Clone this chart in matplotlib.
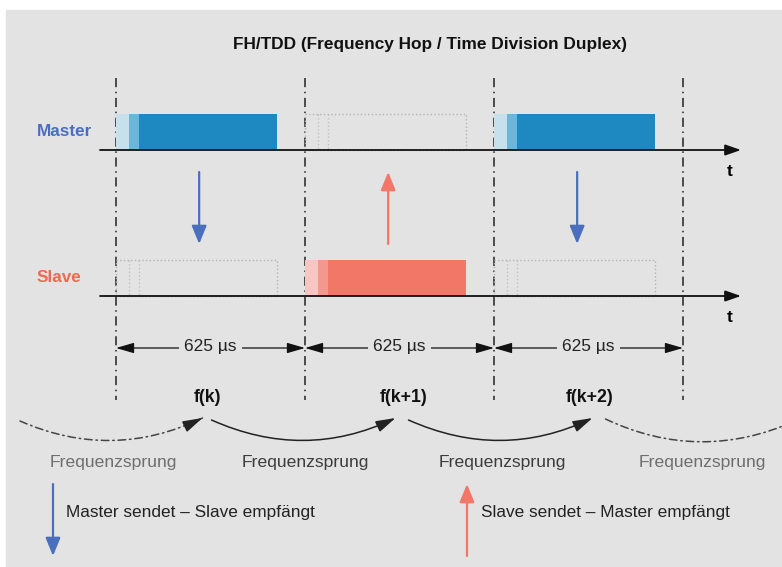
import matplotlib.pyplot as plt
from matplotlib.patches import FancyArrowPatch, Rectangle

plt.rcParams['font.family'] = ['Liberation Sans', 'DejaVu Sans']

# time line data (microseconds)
slot_us = 625
slot_bounds = [0, 625, 1250, 1875]
burst_us = 532
ramp_us = [0, 43, 76]           # light / medium / full part of a burst
master_tx = [True, False, True]
slave_tx = [False, True, False]
hop_labels = ['f(k)', 'f(k+1)', 'f(k+2)']
slot_label = '625 µs'
hop_text = 'Frequenzsprung'
title = 'FH/TDD (Frequency Hop / Time Division Duplex)'

blue = '#4a6fbf'
red = '#f37767'
master_cols = ['#c6e0ec', '#6cb6da', '#1e88c0']
slave_cols = ['#f8c6c2', '#f4978f', '#f37767']
panel = '#e3e3e3'

US_PER_PX = slot_us / 189.0
RAD = 0.23


def ux(p):
    # pixel column -> microseconds (only for decorations)
    return (p - 116) * US_PER_PX


fig = plt.figure(figsize=(7.82, 5.67), dpi=100)
fig.patch.set_facecolor('white')
ax = fig.add_axes([0, 0, 1, 1])
ax.set_xlim(ux(0), ux(782))
ax.set_ylim(567, 0)
ax.axis('off')

ax.add_patch(Rectangle((ux(6), 10), ux(800) - ux(6), 600, color=panel, zorder=0))

ax.text(ux(430), 45, title, ha='center', va='center', fontsize=12.4, fontweight='bold', color='#111111')

# vertical slot boundaries
ax.vlines(slot_bounds, 78, 400, colors='#222222', lw=1.1, linestyles=[(0, (6, 3, 1, 3))], zorder=2)

rows = [('Master', 150, master_tx, master_cols, blue),
        ('Slave', 296, slave_tx, slave_cols, '#ee6a4f')]
for name, y0, tx, cols, lc in rows:
    ax.text(ux(37), y0 - 19, name, ha='left', va='center', fontsize=12.3, fontweight='bold', color=lc)
    for i, s in enumerate(slot_bounds[:3]):
        if tx[i]:
            edges = ramp_us + [burst_us]
            for j in range(3):
                ax.bar(s + edges[j], -36, width=edges[j + 1] - edges[j], bottom=y0,
                       align='edge', color=cols[j], zorder=3)
        else:
            ax.add_patch(Rectangle((s, y0 - 36), burst_us, 36, fill=False, ec='#b4b4b4',
                                   ls=':', lw=1, zorder=3))
            ax.vlines([s + ramp_us[1], s + ramp_us[2]], y0 - 36, y0, colors='#c0c0c0',
                      linestyles=':', lw=1, zorder=3)
    ax.add_patch(FancyArrowPatch((ux(100), y0), (ux(741), y0),
                                 arrowstyle='-|>,head_length=0.95,head_width=0.33',
                                 mutation_scale=10, color='#111111', lw=1.3,
                                 shrinkA=0, shrinkB=0, zorder=4))
    ax.text(ux(730), y0 + 22, 't', ha='center', va='center', fontsize=12.5, fontweight='bold')

# transmit direction arrows
for i, s in enumerate(slot_bounds[:3]):
    x = s + 0.44 * slot_us
    if master_tx[i]:
        p0, p1, c = (x, 172), (x, 244), blue
    else:
        p0, p1, c = (x, 244), (x, 172), red
    ax.add_patch(FancyArrowPatch(p0, p1, arrowstyle='-|>,head_length=1.1,head_width=0.45',
                                 mutation_scale=10, color=c, lw=1.6,
                                 shrinkA=0, shrinkB=0, zorder=4))

# slot length dimension
centers = [s + slot_us / 2 for s in slot_bounds[:3]]
label_shift = [-3, 4, 1]
for i in range(3):
    ax.add_patch(FancyArrowPatch((slot_bounds[i], 348), (slot_bounds[i + 1], 348),
                                 arrowstyle='<|-|>,head_length=1.1,head_width=0.32',
                                 mutation_scale=10, color='#111111', lw=0.9,
                                 shrinkA=0, shrinkB=0, zorder=4))
    ax.text(centers[i], 347, slot_label, ha='center', va='center', fontsize=12.5,
            color='#222222', zorder=5,
            bbox=dict(boxstyle='square,pad=0.3', fc=panel, ec='none'))
    ax.text(centers[i] + label_shift[i] * US_PER_PX, 398, hop_labels[i], ha='center',
            va='center', fontsize=12.8, fontweight='bold', color='#111111')

# frequency hops (start/end offsets in px around the slot centres)
arcs = [(ux(20), 421, centers[0] - 8 * US_PER_PX, 418, 'dash', '#6e6e6e'),
        (centers[0] + 1 * US_PER_PX, 420, centers[1] - 4 * US_PER_PX, 418, 'solid', '#3c3c3c'),
        (centers[1] + 9 * US_PER_PX, 420, centers[2] + 4 * US_PER_PX, 418, 'solid', '#3c3c3c'),
        (centers[2] + 17 * US_PER_PX, 419, ux(795), 421, 'end', '#6e6e6e')]
for x0, y0, x1, y1, kind, tc in arcs:
    col = '#222222' if kind == 'solid' else '#444444'
    ls = '-' if kind == 'solid' else (0, (5, 2.5, 1, 2.5))
    style = '-|>,head_length=1.2,head_width=0.35' if kind == 'solid' else '-'
    ax.add_patch(FancyArrowPatch((x0, y0), (x1, y1), connectionstyle='arc3,rad=%g' % RAD,
                                 arrowstyle=style, mutation_scale=10, color=col,
                                 lw=1.1, ls=ls, shrinkA=0, shrinkB=0, zorder=4))
    if kind == 'dash':
        # solid head along the end tangent of the dashed curve (pixel space)
        a, b = x0 / US_PER_PX, x1 / US_PER_PX
        dx, dy = b - a, -(y1 - y0)
        cx, cy = (a + b) / 2 + RAD * dy, -(y0 + y1) / 2 - RAD * dx
        tx_, ty_ = b - cx, -y1 - cy
        n = (tx_ ** 2 + ty_ ** 2) ** 0.5
        hx, hy = (b - 14 * tx_ / n) * US_PER_PX, -(-y1 - 14 * ty_ / n)
        ax.add_patch(FancyArrowPatch((hx, hy), (x1, y1),
                                     arrowstyle='-|>,head_length=1.2,head_width=0.35',
                                     mutation_scale=10, color='#222222', lw=1.1,
                                     shrinkA=0, shrinkB=0, zorder=4))
    ax.text((x0 + x1) / 2 + 2 * US_PER_PX, 462, hop_text, ha='center', va='center',
            fontsize=12.6, color=tc)

# legend
ax.add_patch(FancyArrowPatch((ux(53), 484), (ux(53), 556),
                             arrowstyle='-|>,head_length=1.1,head_width=0.45',
                             mutation_scale=10, color=blue, lw=1.6, shrinkA=0, shrinkB=0))
ax.text(ux(66), 513, 'Master sendet – Slave empfängt', ha='left', va='center',
        fontsize=12.4, color='#222222')
ax.add_patch(FancyArrowPatch((ux(467), 556), (ux(467), 484),
                             arrowstyle='-|>,head_length=1.1,head_width=0.45',
                             mutation_scale=10, color=red, lw=1.6, shrinkA=0, shrinkB=0))
ax.text(ux(481), 513, 'Slave sendet – Master empfängt', ha='left', va='center',
        fontsize=12.4, color='#222222')

fig.savefig('out.png', dpi=100, facecolor=fig.get_facecolor())
